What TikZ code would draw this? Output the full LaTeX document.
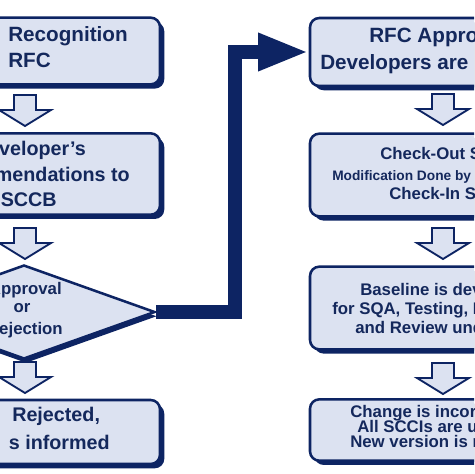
\documentclass[tikz,border=0pt]{standalone}
\usepackage{fontspec}
\setmainfont{Liberation Sans}
\usetikzlibrary{arrows.meta,shapes.geometric,shadows}

\definecolor{navy}{HTML}{0D2463}
\definecolor{boxfill}{HTML}{DCE2F1}
\definecolor{textnavy}{HTML}{14285C}

\tikzset{
  stepbox/.style={draw=navy, line width=1.9pt, fill=boxfill, rounded corners=7pt,
    inner sep=0pt, general shadow={fill=navy, shadow xshift=3.2pt, shadow yshift=-3.2pt}},
  decision/.style={diamond, draw=navy, line width=1.9pt, fill=boxfill, inner sep=0pt,
    general shadow={fill=navy, shadow xshift=1.5pt, shadow yshift=-3.2pt}},
  blockarrow/.style={draw=navy, line width=1.4pt, fill=boxfill, line join=miter},
  bigconn/.style={draw=navy, line width=10.5pt, line join=miter,
    -{Triangle[length=38pt,width=26pt]}},
  lbl/.style={inner sep=0pt, text=textnavy, text height=0.716em, text depth=0pt},
  fxl/.style={font=\bfseries\fontsize{15.5}{18}\selectfont},
  fl/.style={font=\bfseries\fontsize{14.8}{18}\selectfont},
  fm/.style={font=\bfseries\fontsize{12.6}{15}\selectfont},
  fs/.style={font=\bfseries\fontsize{10.3}{12}\selectfont},
}

\begin{document}
\begin{tikzpicture}[x=0.75pt, y=-0.75pt]
  \useasboundingbox (0,0) rectangle (474,474);
  \clip (0,0) rectangle (474,474);
  \fill[white] (0,0) rectangle (474,474);

  % left column
  \node[stepbox, minimum width=150pt, minimum height=50pt] (recog) at (60,51) {};
  \node[stepbox, minimum width=150pt, minimum height=61pt] (recomm) at (60,174) {};
  \node[decision, minimum width=196.5pt, minimum height=70.5pt] (decide) at (24,312) {};
  \node[stepbox, minimum width=150pt, minimum height=48pt] (reject) at (60,432) {};

  % right column
  \node[stepbox, minimum width=165pt, minimum height=51pt] (approved) at (420,52) {};
  \node[stepbox, minimum width=165pt, minimum height=62pt] (checkout) at (420,175) {};
  \node[stepbox, minimum width=165pt, minimum height=62pt] (baseline) at (420,308) {};
  \node[stepbox, minimum width=165pt, minimum height=46pt] (change) at (420,430) {};

  % texts
  \node[lbl, fxl, anchor=west] (t11) at (8,37) {Recognition};
  \node[lbl, fxl, anchor=west] (t12) at (8,63) {RFC};
  \node[lbl, fl, anchor=east] (t21) at (86,151) {veloper’s};
  \node[lbl, fl, anchor=east] (t22) at (130,177) {mendations to};
  \node[lbl, fl, anchor=east] (t23) at (57,202) {SCCB};
  \node[lbl, fm, anchor=east] (t31) at (62,290) {Approval};
  \node[lbl, fm] (t32) at (22,308) {or};
  \node[lbl, fm, anchor=east] (t33) at (63,330) {ejection};
  \node[lbl, fl, anchor=west] (t41) at (12,417) {Rejected,};
  \node[lbl, fl, anchor=east] (t42) at (110,445) {s informed};

  \node[lbl, fxl, anchor=west] (r11) at (369,38) {RFC Appro};
  \node[lbl, fxl, anchor=west] (r12) at (320,65) {Developers are};
  \node[lbl, fm, anchor=west] (r21) at (380,155) {Check-Out S};
  \node[lbl, fs, anchor=west] (r22) at (332,176) {Modification Done by};
  \node[lbl, fm, anchor=west] (r23) at (389,195) {Check-In S};
  \node[lbl, fm, anchor=west] (r31) at (360,291) {Baseline is dev};
  \node[lbl, fm, anchor=west] (r32) at (332,310) {for SQA, Testing, I};
  \node[lbl, fm, anchor=west] (r33) at (355,329) {and Review und};
  \node[lbl, fm, anchor=west] (r41) at (350,413) {Change is incor};
  \node[lbl, fm, anchor=west] (r42) at (357,428) {All SCCIs are u};
  \node[lbl, fm, anchor=west] (r43) at (350,443) {New version is r};

  % hollow down arrows
  \coordinate (a1) at (25,95);
  \coordinate (a2) at (25,228);
  \coordinate (a3) at (25,362);
  \coordinate (b1) at (443,94);
  \coordinate (b2) at (443,228);
  \coordinate (b3) at (443,363);
  \foreach \c in {a1,a2,a3,b1,b2,b3}
    \draw[blockarrow] (\c) ++(-11,0) -- ++(22,0) -- ++(0,15) -- ++(15,0)
      -- ++(-26,16) -- ++(-26,-16) -- ++(15,0) -- cycle;

  % approval path
  \coordinate (bend) at (235,312);
  \draw[bigconn] (decide.east) -- (bend) |- (approved.west);
\end{tikzpicture}
\end{document}
